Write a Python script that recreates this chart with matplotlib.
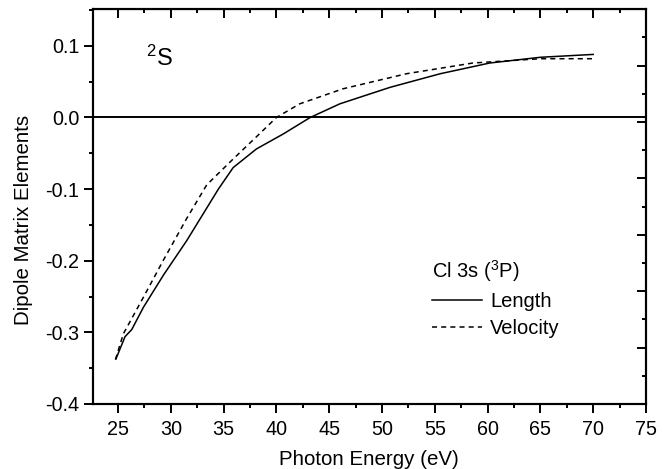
import matplotlib
matplotlib.use("Agg")
import matplotlib.pyplot as plt
from matplotlib.ticker import MultipleLocator

plt.rcParams['font.family'] = ['Liberation Sans', 'DejaVu Sans']
plt.rcParams['mathtext.fontset'] = 'custom'
plt.rcParams['mathtext.rm'] = 'Liberation Sans'
plt.rcParams['mathtext.it'] = 'Liberation Sans:italic'

# Cl 3s (3P) -> 2S dipole matrix elements
energy_length = [24.8, 25.66, 26.3, 27.4, 29.3, 31.5, 34.5, 35.9, 38.1, 40.65,
                 43.2, 46.0, 50.75, 55.5, 60.2, 65.0, 70.0]
dipole_length = [-0.337, -0.306, -0.296, -0.265, -0.220, -0.172, -0.100, -0.070,
                 -0.044, -0.023, 0.0, 0.019, 0.042, 0.061, 0.076, 0.084, 0.088]

energy_velocity = [24.75, 25.5, 27.4, 29.3, 31.5, 33.4, 35.9, 38.1, 40.0, 42.2,
                   46.3, 52.3, 58.6, 65.0, 70.0]
dipole_velocity = [-0.338, -0.302, -0.251, -0.199, -0.141, -0.094, -0.058, -0.027,
                   0.0, 0.019, 0.040, 0.061, 0.076, 0.082, 0.082]

x_ticks = [25, 30, 35, 40, 45, 50, 55, 60, 65, 70, 75]
y_ticks = [-0.4, -0.3, -0.2, -0.1, 0.0, 0.1]

fig = plt.figure(figsize=(6.7, 4.69), dpi=100)
ax = fig.add_axes([0.1384, 0.1386, 0.8258, 0.8416])

line_len, = ax.plot(energy_length, dipole_length, color='black', lw=1.1, label='Length')
line_vel, = ax.plot(energy_velocity, dipole_velocity, color='black', lw=1.1,
                    linestyle=(0, (3.3, 2.7)), label='Velocity')
ax.axhline(0.0, color='black', lw=1.4)

ax.set_xlim(22.6, 75)
ax.set_ylim(-0.4, 0.151)
ax.set_xticks(x_ticks)
ax.set_yticks(y_ticks)
ax.set_yticklabels([f'{v:.1f}' for v in y_ticks])
ax.xaxis.set_minor_locator(MultipleLocator(2.5))
ax.yaxis.set_minor_locator(MultipleLocator(0.05))
ax.tick_params(which='both', direction='out', width=1.4, labelsize=14.2,
               right=False, top=False)
ax.tick_params(which='major', length=6.5)
ax.tick_params(which='minor', length=3.2)
ax.tick_params(axis='x', pad=5)
ax.tick_params(axis='y', pad=3)
for s in ax.spines.values():
    s.set_linewidth(1.5)

# top ticks pointing inward
top = ax.secondary_xaxis('top')
top.set_xticks(x_ticks)
top.xaxis.set_minor_locator(MultipleLocator(2.5))
top.tick_params(which='both', direction='in', width=1.4, labeltop=False)
top.tick_params(which='major', length=6.5)
top.tick_params(which='minor', length=3.2)

# right axis ticks on their own scale, no labels
ax2 = ax.twinx()
ax2.set_ylim(0, 7)
ax2.yaxis.set_major_locator(MultipleLocator(1))
ax2.yaxis.set_minor_locator(MultipleLocator(0.5))
ax2.tick_params(which='both', direction='in', width=1.4, labelright=False)
ax2.tick_params(which='major', length=6.5)
ax2.tick_params(which='minor', length=3.2)
for s in ax2.spines.values():
    s.set_linewidth(1.5)

ax.set_xlabel('Photon Energy (eV)', fontsize=14.8)
ax.set_ylabel('Dipole Matrix Elements', fontsize=14.8)
ax.xaxis.set_label_coords(0.5, -0.117)
ax.yaxis.set_label_coords(-0.108, 0.466)

ax.text(28.9, 0.083, r'$^{2}$S', fontsize=17, ha='center', va='center')

leg = ax.legend(handles=[line_len, line_vel], title=r'Cl 3s ($^{3}$P)', frameon=False,
                loc='upper left', bbox_to_anchor=(0.6127, 0.37), borderpad=0,
                borderaxespad=0, handlelength=2.5, handletextpad=0.4,
                labelspacing=0.4, fontsize=14.5, title_fontsize=14.5,
                alignment='left')

fig.savefig('out.png', dpi=100)
